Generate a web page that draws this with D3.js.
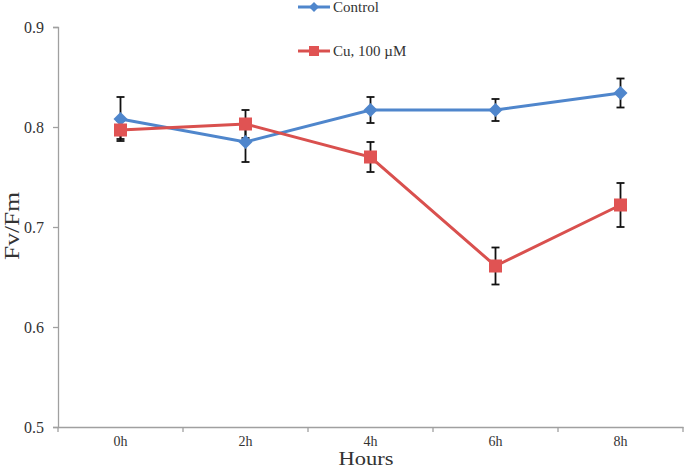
<!DOCTYPE html>
<html><head><meta charset="utf-8">
<script src="https://cdn.jsdelivr.net/npm/d3@7"></script>
<style>body{margin:0;background:#fff}svg{display:block}</style>
</head><body>
<svg id="c" width="685" height="469"></svg>
<script>
const categories = ["0h","2h","4h","6h","8h"];
const controlValues = [0.808, 0.785, 0.817, 0.817, 0.834];
const controlErrors = [0.022, 0.020, 0.013, 0.011, 0.0145];
const cuValues = [0.797, 0.803, 0.770, 0.661, 0.722];
const cuErrors = [0.009, 0.014, 0.015, 0.0185, 0.022];
const yTicks = [0.5, 0.6, 0.7, 0.8, 0.9];
const seriesNames = ["Control", "Cu, 100\u00a0\u00b5M"];

(function(){
const svg = d3.select("#c");
const mLeft = 58, mRight = 683, mTop = 27, mBottom = 427;
const font = "Liberation Serif, Times New Roman, serif";

const x = d3.scaleBand().domain(categories).range([mLeft, mRight]);
const y = d3.scaleLinear().domain([0.5, 0.9]).range([mBottom, mTop]);

// y axis
const ya = svg.append("g").attr("transform", `translate(${mLeft},0)`)
  .call(d3.axisLeft(y).tickValues(yTicks).tickFormat(d3.format(".1f")).tickSize(5).tickPadding(9));
ya.attr("font-family", font);
ya.select(".domain").attr("stroke", "#a0a0a0").attr("stroke-width", 1.3);
ya.selectAll(".tick line").attr("stroke", "#a0a0a0").attr("stroke-width", 1.3);
ya.selectAll("text").style("font-family", font).attr("font-size", 16).attr("fill", "#333");

// x axis
const xa = svg.append("g").attr("transform", `translate(0,${mBottom})`)
  .call(d3.axisBottom(x).tickSize(0).tickPadding(9));
xa.attr("font-family", font);
xa.select(".domain").attr("stroke", "#a0a0a0").attr("stroke-width", 1.3);
xa.selectAll("text").style("font-family", font).attr("font-size", 14).attr("fill", "#333");
const bounds = categories.map(c => x(c)).concat([x(categories[categories.length-1]) + x.bandwidth()]);
xa.selectAll(".bt").data(bounds).enter().append("line")
  .attr("x1", d => d).attr("x2", d => d).attr("y1", 0).attr("y2", 5)
  .attr("stroke", "#a0a0a0").attr("stroke-width", 1.3);

// axis titles
svg.append("text").attr("x", 366).attr("y", 465)
  .attr("text-anchor", "middle").style("font-family", font).attr("font-size", 19).attr("fill", "#333")
  .attr("textLength", 55).attr("lengthAdjust", "spacingAndGlyphs").text("Hours");
svg.append("text").attr("transform", "translate(19,226) rotate(-90)")
  .attr("text-anchor", "middle").style("font-family", font).attr("font-size", 21).attr("fill", "#333")
  .attr("textLength", 68).attr("lengthAdjust", "spacingAndGlyphs").text("Fv/Fm");

const cx = c => x(c) + x.bandwidth() / 2;
const line = d3.line().x((d, i) => cx(categories[i])).y(d => y(d));

const blue = "#4f86cc", red = "#d9504e";

function errorBars(vals, errs) {
  const g = svg.append("g");
  vals.forEach((v, i) => {
    const xc = cx(categories[i]);
    const y1 = y(v + errs[i]), y2 = y(v - errs[i]);
    g.append("line").attr("x1", xc).attr("x2", xc).attr("y1", y1).attr("y2", y2).attr("stroke", "#111").attr("stroke-width", 1.8);
    [y1, y2].forEach(yy => g.append("line").attr("x1", xc - 4).attr("x2", xc + 4).attr("y1", yy).attr("y2", yy).attr("stroke", "#111").attr("stroke-width", 1.8));
  });
}

errorBars(controlValues, controlErrors);
errorBars(cuValues, cuErrors);

svg.append("path").datum(controlValues).attr("d", line).attr("fill", "none").attr("stroke", blue).attr("stroke-width", 3);
svg.selectAll(".dm").data(controlValues).enter().append("path")
  .attr("transform", (d, i) => `translate(${cx(categories[i])},${y(d)})`)
  .attr("d", "M0,-7L7,0L0,7L-7,0Z").attr("fill", blue);

svg.append("path").datum(cuValues).attr("d", line).attr("fill", "none").attr("stroke", red).attr("stroke-width", 3);
svg.selectAll(".sq").data(cuValues).enter().append("rect")
  .attr("x", (d, i) => cx(categories[i]) - 6.5).attr("y", d => y(d) - 6.5)
  .attr("width", 13).attr("height", 13).attr("fill", "#e05353");

const legend = [
  {name: seriesNames[0], color: blue, shape: "d", y: 7},
  {name: seriesNames[1], color: red, shape: "s", y: 51}
];
legend.forEach(l => {
  svg.append("line").attr("x1", 298).attr("x2", 330).attr("y1", l.y).attr("y2", l.y).attr("stroke", l.color).attr("stroke-width", 3);
  if (l.shape === "d") {
    svg.append("path").attr("transform", `translate(314,${l.y})`).attr("d", "M0,-5L5,0L0,5L-5,0Z").attr("fill", l.color);
  } else {
    svg.append("rect").attr("x", 309).attr("y", l.y - 5).attr("width", 10).attr("height", 10).attr("fill", "#e05353");
  }
  svg.append("text").attr("x", 333).attr("y", l.y + 5).style("font-family", font).attr("font-size", 15).attr("fill", "#333").text(l.name);
});
})();
</script>
</body></html>
